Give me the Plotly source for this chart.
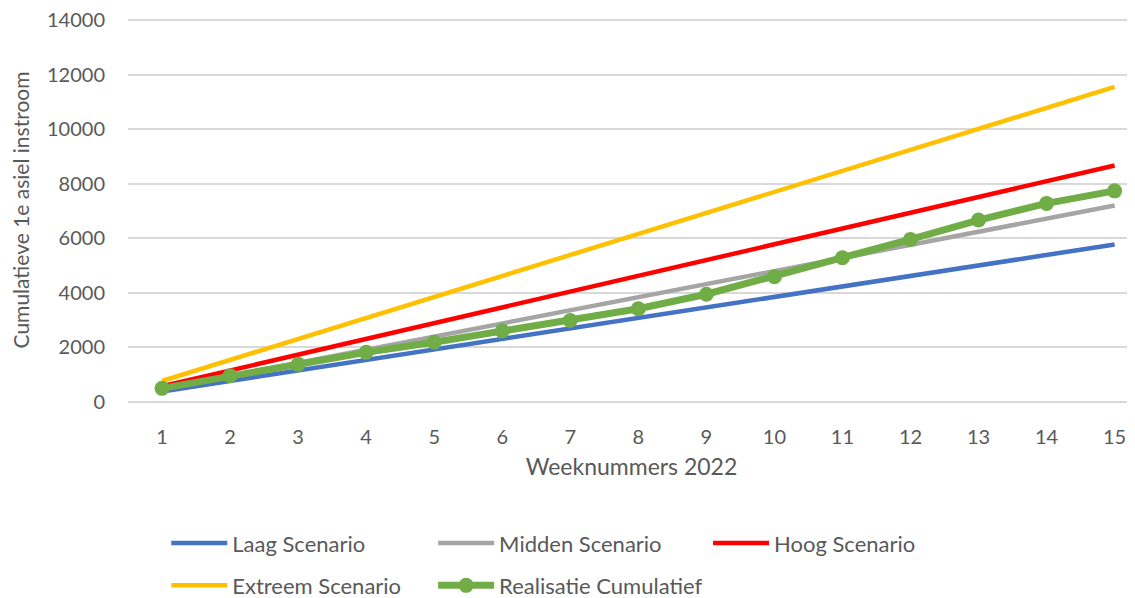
import plotly.graph_objects as go

weeks = list(range(1, 16))
week_labels = [str(w) for w in weeks]
laag = [385, 770, 1155, 1540, 1925, 2310, 2695, 3080, 3465, 3850, 4235, 4620, 5005, 5390, 5775]
midden = [480, 960, 1440, 1920, 2400, 2880, 3360, 3840, 4320, 4800, 5280, 5760, 6240, 6720, 7200]
hoog = [578, 1156, 1734, 2312, 2890, 3468, 4046, 4624, 5202, 5780, 6358, 6936, 7514, 8092, 8670]
extreem = [770, 1540, 2310, 3080, 3850, 4620, 5390, 6160, 6930, 7700, 8470, 9240, 10010, 10780, 11550]
realisatie = [500, 960, 1380, 1820, 2190, 2600, 2990, 3420, 3950, 4590, 5290, 5960, 6670, 7280, 7740]
y_ticks = [0, 2000, 4000, 6000, 8000, 10000, 12000, 14000]
y_labels = [str(v) for v in y_ticks]

FONT = "Lato"
TXT = "#595959"
FS = 20

fig = go.Figure()
fig.add_trace(go.Scatter(x=weeks, y=laag, mode="lines", name="Laag Scenario",
                         line=dict(color="#4472C4", width=4.5), legend="legend"))
fig.add_trace(go.Scatter(x=weeks, y=midden, mode="lines", name="Midden Scenario",
                         line=dict(color="#A5A5A5", width=4.5), legend="legend2"))
fig.add_trace(go.Scatter(x=weeks, y=hoog, mode="lines", name="Hoog Scenario",
                         line=dict(color="#FF0000", width=4.5), legend="legend3"))
fig.add_trace(go.Scatter(x=weeks, y=extreem, mode="lines", name="Extreem Scenario",
                         line=dict(color="#FFC000", width=4.5), legend="legend4"))
fig.add_trace(go.Scatter(x=weeks, y=realisatie, mode="lines+markers", name="Realisatie Cumulatief",
                         line=dict(color="#70AD47", width=7),
                         marker=dict(color="#70AD47", size=15), legend="legend5"))

def leg(x, y):
    return dict(
        x=x, y=y, xanchor="left", yanchor="middle", orientation="h",
        font=dict(family=FONT, size=22, color=TXT),
        itemwidth=56, bgcolor="rgba(0,0,0,0)", borderwidth=0, visible=True,
    )

row1 = -0.368
row2 = -0.478
fig.update_layout(
    width=1127, height=590,
    showlegend=True,
    margin=dict(l=120, r=0, t=10, b=196, autoexpand=False),
    paper_bgcolor="white", plot_bgcolor="white",
    font=dict(family=FONT, size=FS, color=TXT),
    xaxis=dict(
        range=[0.5, 15.3], tickmode="array", tickvals=weeks, ticktext=week_labels,
        showgrid=False, zeroline=False, showline=False, ticks="", automargin=False,
        ticklabelstandoff=21,
        tickfont=dict(family=FONT, size=FS, color=TXT),
        title=dict(text="Weeknummers 2022", font=dict(family=FONT, size=23, color=TXT), standoff=11),
    ),
    yaxis=dict(
        range=[0, 14075], tickmode="array", tickvals=y_ticks, ticktext=y_labels,
        showgrid=True, gridcolor="#D9D9D9", gridwidth=1.5,
        zeroline=True, zerolinecolor="#D9D9D9", zerolinewidth=1.5, showline=False, ticks="",
        automargin=False, ticklabelstandoff=22, ticklabeloverflow="allow",
        tickfont=dict(family=FONT, size=FS, color=TXT),
        title=dict(text="Cumulatieve 1e asiel instroom", font=dict(family=FONT, size=21, color=TXT), standoff=18),
    ),
    legend=leg(0.038, row1),
    legend2=leg(0.303, row1),
    legend3=leg(0.576, row1),
    legend4=leg(0.038, row2),
    legend5=leg(0.303, row2),
)

fig.write_html("out.html")
